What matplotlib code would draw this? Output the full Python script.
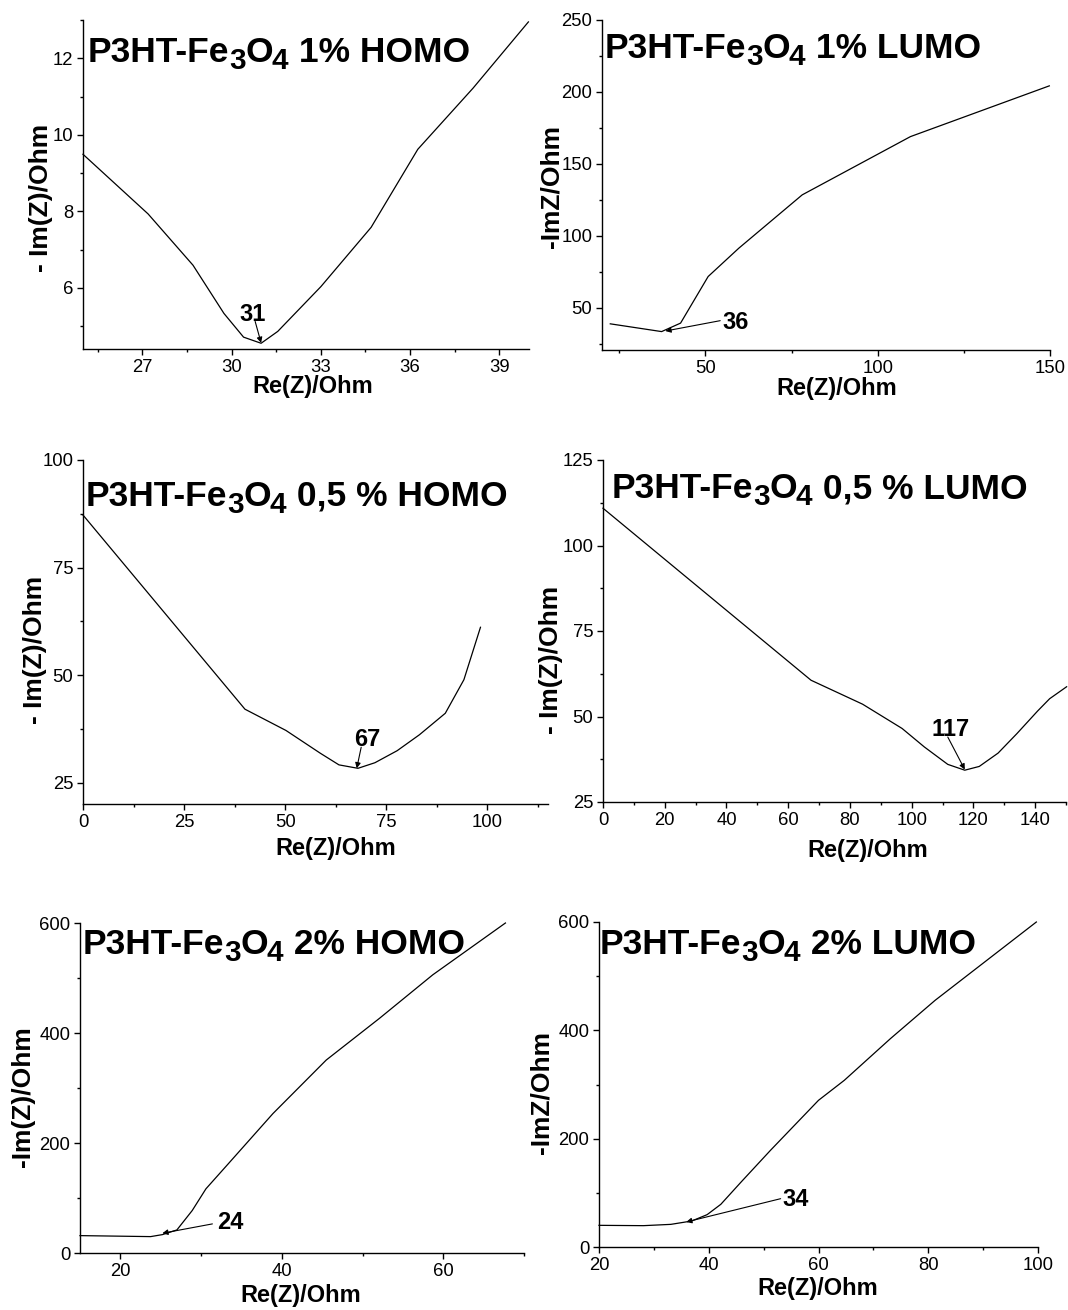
import matplotlib
matplotlib.use('Agg')
import matplotlib.pyplot as plt
from matplotlib.ticker import MultipleLocator

plt.rcParams['font.family'] = ['Liberation Sans', 'DejaVu Sans']

# ---------------- data ----------------
homo1_re = [25.0, 27.19, 28.70, 29.74, 30.40, 30.99, 31.55, 33.0, 34.69, 36.26, 38.12, 39.98]
homo1_im = [9.49, 7.93, 6.59, 5.33, 4.71, 4.55, 4.86, 6.03, 7.58, 9.62, 11.22, 12.95]

lumo1_re = [22.4, 37.3, 42.8, 50.8, 59.7, 78.1, 109.5, 149.8]
lumo1_im = [38.7, 33.3, 39.2, 71.6, 91.3, 128.4, 168.9, 204.2]

homo05_re = [0.0, 40.05, 50.2, 58.7, 63.3, 68.0, 72.2, 77.7, 83.2, 89.6, 94.2, 98.3]
homo05_im = [87.2, 42.05, 37.1, 31.8, 29.1, 28.3, 29.6, 32.4, 36.1, 41.1, 48.9, 61.1]

lumo05_re = [0.0, 67.4, 84.1, 96.9, 104.1, 111.7, 117.2, 121.9, 128.0, 134.1, 140.8, 144.7, 150.2]
lumo05_im = [110.9, 60.6, 53.6, 46.5, 41.1, 36.0, 34.3, 35.4, 39.3, 45.0, 51.6, 55.2, 58.7]

homo2_re = [15.0, 23.75, 25.2, 27.0, 28.9, 30.6, 33.3, 38.9, 45.5, 52.1, 58.7, 67.7]
homo2_im = [31.6, 29.8, 33.4, 41.9, 77.2, 116.7, 161.1, 253.5, 350.8, 426.7, 505.8, 600.0]

lumo2_re = [20.0, 28.1, 33.1, 36.9, 39.7, 42.2, 45.9, 51.25, 60.0, 64.7, 73.1, 81.25, 99.7]
lumo2_im = [40.0, 39.4, 41.8, 48.0, 59.7, 78.8, 120.0, 178.5, 270.8, 307.7, 384.6, 455.4, 600.0]

titles_pre = ["P3HT-Fe", "P3HT-Fe", "P3HT-Fe", "P3HT-Fe", "P3HT-Fe", "P3HT-Fe"]
titles_post = [" 1% HOMO", " 1% LUMO", " 0,5 % HOMO", " 0,5 % LUMO", " 2% HOMO", " 2% LUMO"]
xlabels = ["Re(Z)/Ohm"] * 6
ylabels = ["- Im(Z)/Ohm", "-ImZ/Ohm", "- Im(Z)/Ohm", "- Im(Z)/Ohm", "-Im(Z)/Ohm", "-ImZ/Ohm"]

# annotation labels, arrow head (data point), arrow tail, text anchor
ann_labels = ["31", "36", "67", "117", "24", "34"]
ann_head = [(30.99, 4.56), (38.4, 33.7), (67.7, 28.3), (117.2, 34.5), (25.2, 35.9), (35.9, 46.2)]
ann_tail = [(30.79, 5.12), (54.3, 40.9), (68.8, 33.2), (111.7, 44.0), (31.4, 52.9), (53.1, 89.2)]
ann_text = [(30.27, 5.12), (54.8, 34.9), (67.1, 33.6), (106.3, 44.2), (32.0, 43.8), (53.4, 75.1)]

# ---------------- layout ----------------
W, H, DPI = 1068, 1310, 100
fig = plt.figure(figsize=(W / DPI, H / DPI), dpi=DPI)
fig.patch.set_facecolor('white')

def rect(l, r, t, b):
    return [l / W, 1 - b / H, (r - l) / W, (b - t) / H]

panels = [
    dict(rect=rect(83, 529, 20, 349), xlim=(25, 40), ylim=(4.4, 13.0),
         xmaj=3, xmin=1.5, xstart=27, ymaj=2, ymin=1, title=(88, 62),
         xl=(313, 393), yl=(48, 198), x=homo1_re, y=homo1_im),
    dict(rect=rect(602, 1050, 20, 350), xlim=(20, 150), ylim=(20.5, 250),
         xmaj=50, xmin=25, xstart=50, ymaj=50, ymin=25, title=(605, 58),
         xl=(837, 395), yl=(558, 187), x=lumo1_re, y=lumo1_im),
    dict(rect=rect(83, 548, 460, 804), xlim=(0, 115), ylim=(20, 100),
         xmaj=25, xmin=12.5, xstart=0, ymaj=25, ymin=12.5, title=(86, 506),
         xl=(336, 855), yl=(42, 650), x=homo05_re, y=homo05_im),
    dict(rect=rect(603, 1066, 460, 802), xlim=(0, 150), ylim=(25, 125),
         xmaj=20, xmin=10, xstart=0, ymaj=25, ymin=12.5, title=(612, 498),
         xl=(868, 857), yl=(558, 660), x=lumo05_re, y=lumo05_im),
    dict(rect=rect(80, 524, 923, 1253), xlim=(15, 70), ylim=(0, 600),
         xmaj=20, xmin=10, xstart=20, ymaj=200, ymin=100, title=(83, 954),
         xl=(301, 1302), yl=(30, 1097), x=homo2_re, y=homo2_im),
    dict(rect=rect(599, 1038, 922, 1247), xlim=(20, 100), ylim=(0, 600),
         xmaj=20, xmin=10, xstart=20, ymaj=200, ymin=100, title=(600, 954),
         xl=(818, 1295), yl=(549, 1093), x=lumo2_re, y=lumo2_im),
]

TS = 25.5
SUB = 0.84


def rich_title(ax, xp, yp, pre, post, size):
    parts = [(pre, False, 0), ("3", True, -0.5), ("O", False, -0.3),
             ("4", True, -0.5), (post, False, 0.4)]
    prev = ax.text(xp / W, 1 - yp / H, parts[0][0], transform=fig.transFigure,
                   fontsize=size, fontweight='bold', va='baseline', ha='left')
    prev_dy = 0.0
    k = 0.21
    for s, sub, gap in parts[1:]:
        # keep baselines: sub shifted down by 0.19 em
        dy = (-0.19 * size + k * size - k * SUB * size) if sub else 0.0
        fs = SUB * size if sub else size
        t = ax.annotate(s, xy=(1, 0), xycoords=prev, xytext=(gap, dy - prev_dy),
                        textcoords='offset points', fontsize=fs, fontweight='bold',
                        va='bottom', ha='left', annotation_clip=False)
        prev, prev_dy = t, dy


for i, p in enumerate(panels):
    ax = fig.add_axes(p['rect'])
    ax.plot(p['x'], p['y'], color='black', lw=0.9, clip_on=False)
    ax.set_xlim(*p['xlim'])
    ax.set_ylim(*p['ylim'])
    ax.xaxis.set_major_locator(MultipleLocator(p['xmaj'], offset=p['xstart'] % p['xmaj']))
    ax.xaxis.set_minor_locator(MultipleLocator(p['xmin'], offset=p['xstart'] % p['xmin']))
    ax.yaxis.set_major_locator(MultipleLocator(p['ymaj']))
    ax.yaxis.set_minor_locator(MultipleLocator(p['ymin']))
    for s in ['top', 'right']:
        ax.spines[s].set_visible(False)
    for s in ['left', 'bottom']:
        ax.spines[s].set_linewidth(1.0)
    ax.tick_params(which='major', direction='out', length=4.5, width=1.0,
                   labelsize=13.3, pad=2.5)
    ax.tick_params(which='minor', direction='out', length=2.5, width=1.0)
    ax.set_xlabel(xlabels[i], fontsize=17, fontweight='bold')
    ax.set_ylabel(ylabels[i], fontsize=19, fontweight='bold')
    ax.xaxis.label.set_va('baseline')
    ax.yaxis.label.set_va('baseline')
    ax.xaxis.set_label_coords(p['xl'][0] / W, 1 - p['xl'][1] / H, transform=fig.transFigure)
    ax.yaxis.set_label_coords(p['yl'][0] / W, 1 - p['yl'][1] / H, transform=fig.transFigure)

    rich_title(ax, p['title'][0], p['title'][1], titles_pre[i], titles_post[i], TS)

    ax.annotate('', xy=ann_head[i], xytext=ann_tail[i],
                arrowprops=dict(arrowstyle='-|>', lw=0.8, color='black',
                                mutation_scale=8, shrinkA=0, shrinkB=0))
    ax.text(ann_text[i][0], ann_text[i][1], ann_labels[i], fontsize=17,
            fontweight='bold', ha='left', va='baseline')

fig.savefig('out.png', dpi=DPI, facecolor='white')
